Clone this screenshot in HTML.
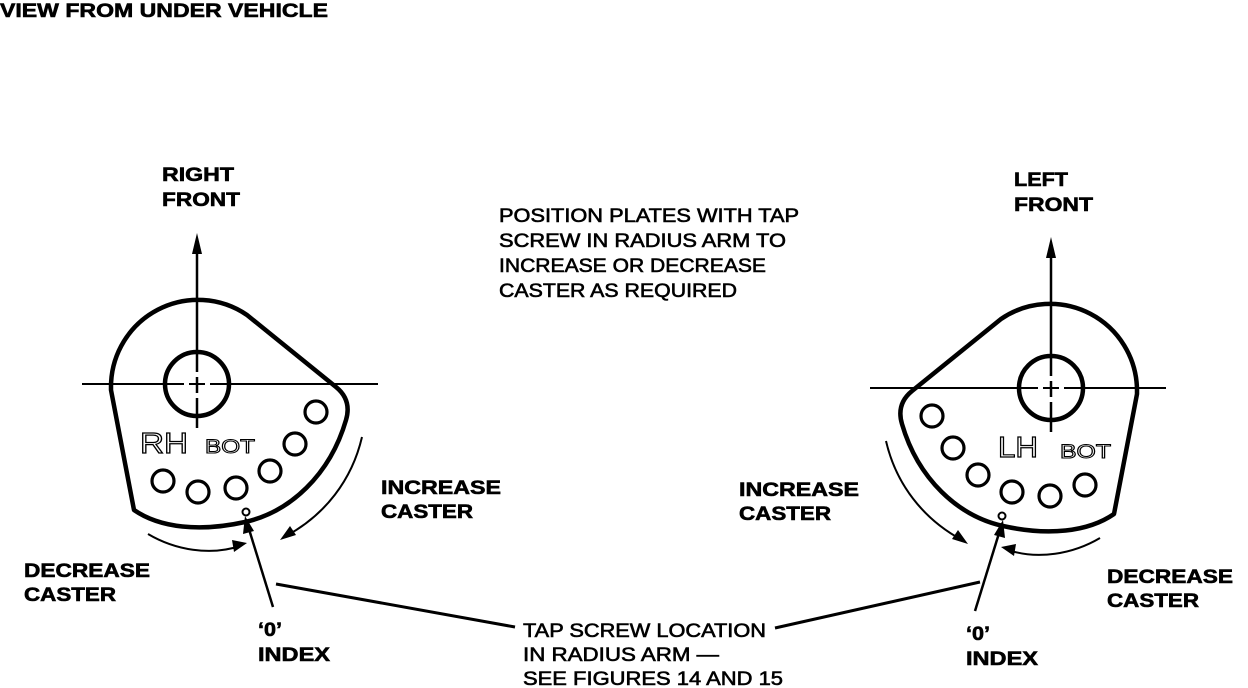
<!DOCTYPE html>
<html><head><meta charset="utf-8"><style>
html,body{margin:0;padding:0;background:#fff;}
svg{display:block;}
text{font-family:"Liberation Sans",Arial,sans-serif;fill:#000;}
.b{font-weight:bold;font-size:19px;stroke:#000;stroke-width:0.6px;}
.n{font-size:19px;stroke:#000;stroke-width:0.6px;}
.o{font-size:29px;fill:#fff;stroke:#000;stroke-width:1.2px;}
.os{font-size:19px;fill:#fff;stroke:#000;stroke-width:1px;}
</style></head><body>
<svg width="1248" height="688" viewBox="0 0 1248 688" xmlns="http://www.w3.org/2000/svg">
<defs>
<g id="plate">
  <path d="M111,386 A87,87 0 0 1 247,315 L336,387 Q352,400 346,420 C330,475 290,512 245,522 C200,532 160,528 134,510 L111,390 Z" fill="none" stroke="#000" stroke-width="4.5" stroke-linejoin="round"/>
  <circle cx="197" cy="384" r="32" fill="none" stroke="#000" stroke-width="4.5"/>
  <line x1="197" y1="250" x2="197" y2="372" stroke="#000" stroke-width="2.5"/>
  <line x1="197" y1="377" x2="197" y2="393" stroke="#000" stroke-width="2.5"/>
  <line x1="197" y1="398" x2="197" y2="428" stroke="#000" stroke-width="2.5"/>
  <polygon points="197,233 192,254 202,254" fill="#000"/>
  <line x1="82" y1="384" x2="184" y2="384" stroke="#000" stroke-width="2"/>
  <line x1="189" y1="384" x2="205" y2="384" stroke="#000" stroke-width="2"/>
  <line x1="210" y1="384" x2="378" y2="384" stroke="#000" stroke-width="2"/>
  <g fill="none" stroke="#000" stroke-width="3.2">
    <circle cx="316" cy="412" r="11"/>
    <circle cx="295" cy="444" r="11"/>
    <circle cx="270" cy="471" r="11"/>
    <circle cx="236" cy="488" r="11"/>
    <circle cx="198" cy="492" r="11"/>
    <circle cx="163" cy="481" r="11"/>
    <circle cx="246" cy="512" r="3.5" stroke-width="2"/>
  </g>
  <path d="M362,437 C352,480 325,515 286,536" fill="none" stroke="#000" stroke-width="2"/>
  <polygon points="280,540 290,526 296,535" fill="#000"/>
  <path d="M148,534 C175,550 210,556 240,546" fill="none" stroke="#000" stroke-width="2"/>
  <polygon points="247,543 232,540 234,552" fill="#000"/>
  <line x1="273" y1="607" x2="248" y2="526" stroke="#000" stroke-width="2.5"/>
  <polygon points="245,516 243,534 254,531" fill="#000"/>
</g>
</defs>

<use href="#plate"/>
<g transform="translate(1248,4) scale(-1,1)"><use href="#plate"/></g>

<line x1="276" y1="584" x2="515" y2="627" stroke="#000" stroke-width="3"/>
<line x1="775" y1="628" x2="980" y2="582" stroke="#000" stroke-width="3"/>

<text class="o" x="140" y="453" textLength="48" lengthAdjust="spacingAndGlyphs">RH</text>
<text class="os" x="205" y="453" textLength="50" lengthAdjust="spacingAndGlyphs">BOT</text>
<text class="o" x="998" y="457" textLength="40" lengthAdjust="spacingAndGlyphs">LH</text>
<text class="os" x="1060" y="458" textLength="51" lengthAdjust="spacingAndGlyphs">BOT</text>

<text class="b" x="0" y="17" textLength="328" lengthAdjust="spacingAndGlyphs">VIEW FROM UNDER VEHICLE</text>
<text class="b" x="162" y="181" textLength="72" lengthAdjust="spacingAndGlyphs">RIGHT</text>
<text class="b" x="162" y="206" textLength="78" lengthAdjust="spacingAndGlyphs">FRONT</text>
<text class="b" x="1014" y="186" textLength="54" lengthAdjust="spacingAndGlyphs">LEFT</text>
<text class="b" x="1014" y="211" textLength="79" lengthAdjust="spacingAndGlyphs">FRONT</text>

<text class="n" x="499" y="222" textLength="300" lengthAdjust="spacingAndGlyphs">POSITION PLATES WITH TAP</text>
<text class="n" x="499" y="247" textLength="287" lengthAdjust="spacingAndGlyphs">SCREW IN RADIUS ARM TO</text>
<text class="n" x="499" y="272" textLength="267" lengthAdjust="spacingAndGlyphs">INCREASE OR DECREASE</text>
<text class="n" x="499" y="297" textLength="238" lengthAdjust="spacingAndGlyphs">CASTER AS REQUIRED</text>

<text class="b" x="381" y="494" textLength="120" lengthAdjust="spacingAndGlyphs">INCREASE</text>
<text class="b" x="381" y="518" textLength="92" lengthAdjust="spacingAndGlyphs">CASTER</text>
<text class="b" x="739" y="496" textLength="120" lengthAdjust="spacingAndGlyphs">INCREASE</text>
<text class="b" x="739" y="520" textLength="92" lengthAdjust="spacingAndGlyphs">CASTER</text>

<text class="b" x="24" y="577" textLength="126" lengthAdjust="spacingAndGlyphs">DECREASE</text>
<text class="b" x="24" y="601" textLength="92" lengthAdjust="spacingAndGlyphs">CASTER</text>
<text class="b" x="1107" y="583" textLength="126" lengthAdjust="spacingAndGlyphs">DECREASE</text>
<text class="b" x="1107" y="607" textLength="92" lengthAdjust="spacingAndGlyphs">CASTER</text>

<text class="b" x="258" y="636" textLength="24" lengthAdjust="spacingAndGlyphs">‘0’</text>
<text class="b" x="258" y="661" textLength="72" lengthAdjust="spacingAndGlyphs">INDEX</text>
<text class="b" x="966" y="640" textLength="24" lengthAdjust="spacingAndGlyphs">‘0’</text>
<text class="b" x="966" y="665" textLength="72" lengthAdjust="spacingAndGlyphs">INDEX</text>

<text class="n" x="523" y="637" textLength="243" lengthAdjust="spacingAndGlyphs">TAP SCREW LOCATION</text>
<text class="n" x="523" y="661" textLength="196" lengthAdjust="spacingAndGlyphs">IN RADIUS ARM —</text>
<text class="n" x="523" y="685" textLength="260" lengthAdjust="spacingAndGlyphs">SEE FIGURES 14 AND 15</text>
</svg>
</body></html>
